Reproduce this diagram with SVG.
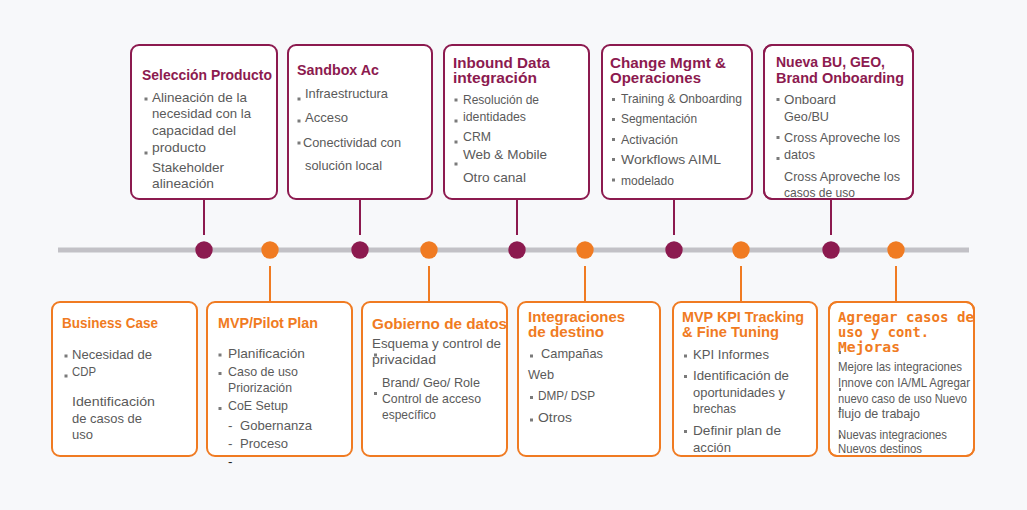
<svg xmlns="http://www.w3.org/2000/svg" width="1027" height="510" viewBox="0 0 1027 510">
<style>
.pbox{fill:#ffffff;stroke:#8c1a4f;stroke-width:2}
.obox{fill:#ffffff;stroke:#f07b22;stroke-width:2}
.pt{font-family:"Liberation Sans",Arial,sans-serif;font-weight:bold;font-size:15.5px;fill:#8c1a4f}
.ot{font-family:"Liberation Sans",Arial,sans-serif;font-weight:bold;font-size:15.5px;fill:#f07b22}
.om{font-family:"DejaVu Sans Mono","Liberation Mono",monospace;font-weight:bold;font-size:14.5px;fill:#f07b22}
.b{font-family:"Liberation Sans",Arial,sans-serif;font-size:13.5px;fill:#5a5a5a}
.sq{fill:#7a7a7a}
.pc{stroke:#8c1a4f;stroke-width:2}
.oc{stroke:#f07b22;stroke-width:2}
.pd{fill:#8c1a4f}
.od{fill:#f07b22}
</style>
<rect x="0" y="0" width="1027" height="510" fill="#f7f8fa"/>

<g id="connectors">
<line x1="58" y1="250" x2="969" y2="250" stroke="#c2c1c6" stroke-width="5"/>
<line class="pc" x1="204" y1="199" x2="204" y2="235"/>
<line class="pc" x1="360" y1="199" x2="360" y2="235"/>
<line class="pc" x1="517" y1="199" x2="517" y2="235"/>
<line class="pc" x1="674" y1="199" x2="674" y2="235"/>
<line class="pc" x1="831" y1="199" x2="831" y2="235"/>
<line class="oc" x1="270" y1="266" x2="270" y2="302"/>
<line class="oc" x1="429" y1="266" x2="429" y2="302"/>
<line class="oc" x1="585" y1="266" x2="585" y2="302"/>
<line class="oc" x1="741" y1="266" x2="741" y2="302"/>
<line class="oc" x1="896" y1="266" x2="896" y2="302"/>
<circle class="pd" cx="204" cy="250" r="8.7"/>
<circle class="od" cx="270" cy="250" r="8.7"/>
<circle class="pd" cx="360" cy="250" r="8.7"/>
<circle class="od" cx="429" cy="250" r="8.7"/>
<circle class="pd" cx="517" cy="250" r="8.7"/>
<circle class="od" cx="585" cy="250" r="8.7"/>
<circle class="pd" cx="674" cy="250" r="8.7"/>
<circle class="od" cx="741" cy="250" r="8.7"/>
<circle class="pd" cx="831" cy="250" r="8.7"/>
<circle class="od" cx="896" cy="250" r="8.7"/>
</g>

<g id="seleccion-producto">
<rect class="pbox" x="131" y="45" width="146" height="154" rx="8"/>
<text class="pt" x="142" y="80" textLength="130" lengthAdjust="spacingAndGlyphs">Selección Producto</text>
<rect class="sq" x="144.5" y="97.5" width="3" height="3"/>
<rect class="sq" x="144.5" y="151.5" width="3" height="3"/>
<text class="b" x="152" y="102" textLength="95" lengthAdjust="spacingAndGlyphs">Alineación de la</text>
<text class="b" x="152" y="118" textLength="99" lengthAdjust="spacingAndGlyphs">necesidad con la</text>
<text class="b" x="152" y="135" textLength="84" lengthAdjust="spacingAndGlyphs">capacidad del</text>
<text class="b" x="152" y="152" textLength="54" lengthAdjust="spacingAndGlyphs">producto</text>
<text class="b" x="152" y="172" textLength="72" lengthAdjust="spacingAndGlyphs">Stakeholder</text>
<text class="b" x="152" y="188" textLength="62" lengthAdjust="spacingAndGlyphs">alineación</text>
</g>

<g id="sandbox-ac">
<rect class="pbox" x="288" y="45" width="144" height="154" rx="8"/>
<text class="pt" x="297" y="75" textLength="82" lengthAdjust="spacingAndGlyphs">Sandbox Ac</text>
<rect class="sq" x="297.5" y="97.5" width="3" height="3"/>
<rect class="sq" x="297.5" y="119.5" width="3" height="3"/>
<rect class="sq" x="297.5" y="141.5" width="3" height="3"/>
<text class="b" x="305" y="98" textLength="83" lengthAdjust="spacingAndGlyphs">Infraestructura</text>
<text class="b" x="305" y="122" textLength="43" lengthAdjust="spacingAndGlyphs">Acceso</text>
<text class="b" x="303" y="147" textLength="98" lengthAdjust="spacingAndGlyphs">Conectividad  con</text>
<text class="b" x="305" y="170" textLength="77" lengthAdjust="spacingAndGlyphs">solución  local</text>
</g>

<g id="inbound-data">
<rect class="pbox" x="444" y="45" width="145" height="154" rx="8"/>
<text class="pt" x="453" y="68" textLength="97" lengthAdjust="spacingAndGlyphs">Inbound Data</text>
<text class="pt" x="453" y="83" textLength="84" lengthAdjust="spacingAndGlyphs">integración</text>
<rect class="sq" x="454.5" y="98.5" width="3" height="3"/>
<rect class="sq" x="454.5" y="119.5" width="3" height="3"/>
<rect class="sq" x="454.5" y="140.5" width="3" height="3"/>
<rect class="sq" x="454.5" y="162.5" width="3" height="3"/>
<text class="b" x="463" y="104" textLength="76" lengthAdjust="spacingAndGlyphs">Resolución de</text>
<text class="b" x="463" y="121" textLength="63" lengthAdjust="spacingAndGlyphs">identidades</text>
<text class="b" x="463" y="141" textLength="28" lengthAdjust="spacingAndGlyphs">CRM</text>
<text class="b" x="463" y="159" textLength="84" lengthAdjust="spacingAndGlyphs">Web &amp; Mobile</text>
<text class="b" x="463" y="182" textLength="63" lengthAdjust="spacingAndGlyphs">Otro canal</text>
</g>

<g id="change-mgmt">
<rect class="pbox" x="602" y="45" width="150" height="154" rx="8"/>
<text class="pt" x="610" y="68" textLength="116" lengthAdjust="spacingAndGlyphs">Change Mgmt &amp;</text>
<text class="pt" x="610" y="83" textLength="91" lengthAdjust="spacingAndGlyphs">Operaciones</text>
<rect class="sq" x="612" y="98" width="3" height="3"/>
<rect class="sq" x="612" y="118" width="3" height="3"/>
<rect class="sq" x="612" y="138" width="3" height="3"/>
<rect class="sq" x="612" y="158" width="3" height="3"/>
<rect class="sq" x="612" y="178.5" width="3" height="3"/>
<text class="b" x="621" y="103" textLength="121" lengthAdjust="spacingAndGlyphs">Training &amp; Onboarding</text>
<text class="b" x="621" y="123" textLength="76" lengthAdjust="spacingAndGlyphs">Segmentación</text>
<text class="b" x="621" y="144" textLength="57" lengthAdjust="spacingAndGlyphs">Activación</text>
<text class="b" x="621" y="164" textLength="100" lengthAdjust="spacingAndGlyphs">Workflows  AIML</text>
<text class="b" x="621" y="185" textLength="53" lengthAdjust="spacingAndGlyphs">modelado</text>
</g>

<g id="nueva-bu">
<rect class="pbox" x="764" y="45" width="149" height="154" rx="8"/>
<text class="pt" x="776" y="67" textLength="109" lengthAdjust="spacingAndGlyphs">Nueva BU, GEO,</text>
<text class="pt" x="776" y="83" textLength="128" lengthAdjust="spacingAndGlyphs">Brand Onboarding</text>
<rect class="sq" x="776.5" y="98" width="3" height="3"/>
<rect class="sq" x="776.5" y="136" width="3" height="3"/>
<rect class="sq" x="776.5" y="157" width="3" height="3"/>
<text class="b" x="784" y="104" textLength="52" lengthAdjust="spacingAndGlyphs">Onboard</text>
<text class="b" x="784" y="121" textLength="45" lengthAdjust="spacingAndGlyphs">Geo/BU</text>
<text class="b" x="784" y="142" textLength="116" lengthAdjust="spacingAndGlyphs">Cross Aproveche los</text>
<text class="b" x="784" y="159" textLength="31" lengthAdjust="spacingAndGlyphs">datos</text>
<text class="b" x="784" y="181" textLength="116" lengthAdjust="spacingAndGlyphs">Cross Aproveche los</text>
<text class="b" x="784" y="197" textLength="71" lengthAdjust="spacingAndGlyphs">casos de uso</text>
<rect x="764" y="45" width="149" height="154" rx="8" fill="none" stroke="#8c1a4f" stroke-width="2"/>
</g>

<g id="business-case">
<rect class="obox" x="52" y="302" width="145" height="154" rx="8"/>
<text class="ot" x="62" y="328" textLength="96" lengthAdjust="spacingAndGlyphs">Business Case</text>
<rect class="sq" x="64.5" y="354.5" width="3" height="3"/>
<rect class="sq" x="64.5" y="374.5" width="3" height="3"/>
<text class="b" x="72" y="359" textLength="80" lengthAdjust="spacingAndGlyphs">Necesidad de</text>
<text class="b" x="72" y="376" textLength="24" lengthAdjust="spacingAndGlyphs">CDP</text>
<text class="b" x="72" y="406" textLength="83" lengthAdjust="spacingAndGlyphs">Identificación</text>
<text class="b" x="72" y="423" textLength="70" lengthAdjust="spacingAndGlyphs">de casos de</text>
<text class="b" x="72" y="439" textLength="21" lengthAdjust="spacingAndGlyphs">uso</text>
</g>

<g id="mvp-pilot-plan">
<rect class="obox" x="207" y="302" width="145" height="154" rx="8"/>
<text class="ot" x="218" y="328" textLength="100" lengthAdjust="spacingAndGlyphs">MVP/Pilot Plan</text>
<rect class="sq" x="218.5" y="353.5" width="3" height="3"/>
<rect class="sq" x="218.5" y="372" width="3" height="3"/>
<rect class="sq" x="218.5" y="407" width="3" height="3"/>
<text class="b" x="228" y="358" textLength="77" lengthAdjust="spacingAndGlyphs">Planificación</text>
<text class="b" x="228" y="376" textLength="70" lengthAdjust="spacingAndGlyphs">Caso de uso</text>
<text class="b" x="228" y="392" textLength="64" lengthAdjust="spacingAndGlyphs">Priorización</text>
<text class="b" x="228" y="410" textLength="60" lengthAdjust="spacingAndGlyphs">CoE Setup</text>
<text class="b" x="228" y="430">-</text>
<text class="b" x="240" y="430" textLength="72" lengthAdjust="spacingAndGlyphs">Gobernanza</text>
<text class="b" x="228" y="448">-</text>
<text class="b" x="240" y="448" textLength="48" lengthAdjust="spacingAndGlyphs">Proceso</text>
<text class="b" x="228" y="466" style="fill:#222">-</text>
</g>

<g id="gobierno-datos">
<rect class="obox" x="362" y="302" width="145" height="154" rx="8"/>
<text class="ot" x="372" y="329" textLength="135" lengthAdjust="spacingAndGlyphs">Gobierno de datos</text>
<text class="b" x="372" y="348" textLength="129" lengthAdjust="spacingAndGlyphs">Esquema y control de</text>
<rect class="sq" x="374" y="353.5" width="3" height="3"/>
<text class="b" x="372" y="364" textLength="64" lengthAdjust="spacingAndGlyphs">privacidad</text>
<rect class="sq" x="374" y="392" width="3" height="3"/>
<text class="b" x="382" y="387" textLength="98" lengthAdjust="spacingAndGlyphs">Brand/ Geo/ Role</text>
<text class="b" x="382" y="403" textLength="99" lengthAdjust="spacingAndGlyphs">Control de acceso</text>
<text class="b" x="382" y="419" textLength="54" lengthAdjust="spacingAndGlyphs">específico</text>
</g>

<g id="integraciones-destino">
<rect class="obox" x="518" y="302" width="142" height="154" rx="8"/>
<text class="ot" x="528" y="322" textLength="97" lengthAdjust="spacingAndGlyphs">Integraciones</text>
<text class="ot" x="528" y="337" textLength="76" lengthAdjust="spacingAndGlyphs">de destino</text>
<rect class="sq" x="530" y="354.5" width="3" height="3"/>
<text class="b" x="541" y="358" textLength="62" lengthAdjust="spacingAndGlyphs">Campañas</text>
<text class="b" x="528" y="379" textLength="26" lengthAdjust="spacingAndGlyphs">Web</text>
<rect class="sq" x="530" y="396" width="3" height="3"/>
<text class="b" x="538" y="400" textLength="57" lengthAdjust="spacingAndGlyphs">DMP/ DSP</text>
<rect class="sq" x="530" y="418.5" width="3" height="3"/>
<text class="b" x="538" y="422" textLength="34" lengthAdjust="spacingAndGlyphs">Otros</text>
</g>

<g id="mvp-kpi-tracking">
<rect class="obox" x="673" y="302" width="144" height="154" rx="8"/>
<text class="ot" x="682" y="322" textLength="122" lengthAdjust="spacingAndGlyphs">MVP KPI Tracking</text>
<text class="ot" x="682" y="337" textLength="97" lengthAdjust="spacingAndGlyphs">&amp; Fine Tuning</text>
<rect class="sq" x="684" y="354.5" width="3" height="3"/>
<rect class="sq" x="684" y="375" width="3" height="3"/>
<rect class="sq" x="684" y="430" width="3" height="3"/>
<text class="b" x="693" y="359" textLength="76" lengthAdjust="spacingAndGlyphs">KPI Informes</text>
<text class="b" x="693" y="380" textLength="96" lengthAdjust="spacingAndGlyphs">Identificación  de</text>
<text class="b" x="693" y="397" textLength="92" lengthAdjust="spacingAndGlyphs">oportunidades  y</text>
<text class="b" x="693" y="413" textLength="43" lengthAdjust="spacingAndGlyphs">brechas</text>
<text class="b" x="693" y="435" textLength="88" lengthAdjust="spacingAndGlyphs">Definir plan de</text>
<text class="b" x="693" y="452" textLength="38" lengthAdjust="spacingAndGlyphs">acción</text>
</g>

<g id="agregar-casos">
<rect class="obox" x="829" y="302" width="145" height="154" rx="8"/>
<text class="om" x="838" y="322" textLength="136" lengthAdjust="spacingAndGlyphs">Agregar casos de</text>
<text class="om" x="838" y="337" textLength="91" lengthAdjust="spacingAndGlyphs">uso y cont.</text>
<text class="om" x="838" y="352" textLength="62" lengthAdjust="spacingAndGlyphs">Mejoras</text>
<rect class="sq" x="839" y="351" width="2" height="3"/>
<rect class="sq" x="839" y="388" width="2" height="3"/>
<rect class="sq" x="839" y="407" width="2" height="3"/>
<rect class="sq" x="839" y="435" width="2" height="3"/>
<text class="b" x="838" y="371" textLength="124" lengthAdjust="spacingAndGlyphs">Mejore las integraciones</text>
<text class="b" x="838" y="387" textLength="132" lengthAdjust="spacingAndGlyphs">Innove con IA/ML Agregar</text>
<text class="b" x="838" y="403" textLength="129" lengthAdjust="spacingAndGlyphs">nuevo caso de uso Nuevo</text>
<text class="b" x="838" y="418" textLength="82" lengthAdjust="spacingAndGlyphs">flujo de trabajo</text>
<text class="b" x="838" y="439" textLength="109" lengthAdjust="spacingAndGlyphs">Nuevas integraciones</text>
<text class="b" x="838" y="453" textLength="84" lengthAdjust="spacingAndGlyphs">Nuevos destinos</text>
<rect x="829" y="302" width="145" height="154" rx="8" fill="none" stroke="#f07b22" stroke-width="2"/>
</g>
</svg>
